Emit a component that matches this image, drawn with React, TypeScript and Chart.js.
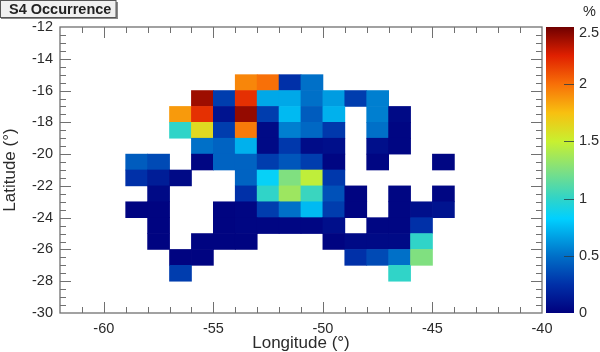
import React, { useEffect, useRef } from "react";
import { Chart, registerables } from "chart.js";

Chart.register(...registerables);

const FONT = "'Liberation Sans', Arial, sans-serif";
const _ = null;

// Left edge of every column (longitude, degrees)
const lons = [-59, -58, -57, -56, -55, -54, -53, -52, -51, -50, -49, -48, -47, -46, -45];
// Top edge of every row (latitude, degrees)
const lats = [-15, -16, -17, -18, -19, -20, -21, -22, -23, -24, -25, -26, -27];

const row15 = [_, _, _, _, _, 1.93, 2.0, 0.25, 0.5, _, _, _, _, _, _];
const row16 = [_, _, _, 2.4, 0.3, 2.2, 0.69, 0.69, 0.5, 0.65, 0.3, 0.55, _, _, _];
const row17 = [_, _, 1.87, 2.2, 0.1, 2.42, 0.3, 0.75, 0.42, 0.72, _, 0.55, 0.05, _, _];
const row18 = [_, _, 1.0, 1.62, 0.3, 1.97, 0.05, 0.55, 0.47, 0.28, _, 0.5, 0.03, _, _];
const row19 = [_, _, _, 0.5, 0.45, 0.72, 0.05, 0.28, 0.06, 0.08, _, 0.08, 0.03, _, _];
const row20 = [0.42, 0.35, _, 0.03, 0.45, 0.45, 0.3, 0.4, 0.3, 0.03, _, 0.03, _, _, 0.03];
const row21 = [0.25, 0.15, 0.05, _, _, 0.45, 0.85, 1.25, 1.47, 0.28, _, _, _, _, _];
const row22 = [_, 0.05, _, _, _, 0.25, 1.0, 1.35, 1.03, 0.38, 0.02, _, 0.03, _, 0.03];
const row23 = [0.02, 0.02, _, _, 0.02, 0.03, 0.3, 0.5, 0.75, 0.3, 0.02, _, 0.03, 0.08, 0.1];
const row24 = [_, 0.02, _, _, 0.02, 0.03, 0.03, 0.03, 0.03, 0.08, _, 0.03, 0.03, 0.25, _];
const row25 = [_, 0.02, _, 0.02, 0.02, 0.02, _, _, _, 0.02, 0.05, 0.05, 0.05, 1.0, _];
const row26 = [_, _, 0.02, 0.02, _, _, _, _, _, _, 0.25, 0.35, 0.5, 1.25, _];
const row27 = [_, _, 0.3, _, _, _, _, _, _, _, _, _, 1.0, _, _];
const rows = [row15, row16, row17, row18, row19, row20, row21, row22, row23, row24, row25, row26, row27];

const colorMax = 2.5;
const colorStops: [number, number[]][] = [
  [0, [0, 0, 126]],
  [0.1, [0, 48, 168]],
  [0.2, [0, 112, 200]],
  [0.33, [0, 208, 255]],
  [0.4, [48, 212, 200]],
  [0.5, [128, 224, 128]],
  [0.6, [200, 240, 48]],
  [0.7, [248, 192, 16]],
  [0.8, [248, 112, 8]],
  [0.9, [224, 32, 0]],
  [1, [112, 0, 0]],
];

function colorFor(v: number): string {
  const t = Math.min(1, Math.max(0, v / colorMax));
  for (let i = 1; i < colorStops.length; i++) {
    const [t1, c1] = colorStops[i];
    const [t0, c0] = colorStops[i - 1];
    if (t <= t1) {
      const f = (t - t0) / (t1 - t0);
      const c = c0.map((a, k) => Math.round(a + (c1[k] - a) * f));
      return `rgb(${c[0]},${c[1]},${c[2]})`;
    }
  }
  return "rgb(112,0,0)";
}

const cells: { x: number; y: [number, number]; v: number }[] = [];
rows.forEach((row, r) =>
  row.forEach((v, c) => {
    if (v !== null) cells.push({ x: lons[c] + 0.5, y: [lats[r] - 1, lats[r]], v: v as number });
  })
);

const AXIS = "#707070";
const TEXT = "#2b2b2b";

const decorate = {
  id: "decorate",
  beforeDatasetsDraw(chart: any) {
    const { ctx, chartArea: a, scales } = chart;
    const y2 = scales.y2;
    // colour bar
    const barL = a.right + 4;
    const barR = a.right + 32;
    const top = y2.getPixelForValue(colorMax);
    const bot = y2.getPixelForValue(0);
    const g = ctx.createLinearGradient(0, bot, 0, top);
    colorStops.forEach(([t, c]) => g.addColorStop(t, `rgb(${c[0]},${c[1]},${c[2]})`));
    ctx.save();
    ctx.fillStyle = g;
    ctx.fillRect(barL, top, barR - barL, bot - top);
    ctx.strokeStyle = "rgba(40,60,70,0.8)";
    ctx.lineWidth = 1;
    y2.ticks.forEach((t: any) => {
      if (t.value <= 0 || t.value >= colorMax) return;
      const p = Math.round(y2.getPixelForValue(t.value)) + 0.5;
      ctx.beginPath();
      ctx.moveTo(barR - 10, p);
      ctx.lineTo(barR, p);
      ctx.stroke();
    });
    ctx.restore();
  },
  afterDatasetsDraw(chart: any) {
    const { ctx, chartArea: a, scales } = chart;
    const { x, y, y2 } = scales;
    ctx.save();
    ctx.strokeStyle = AXIS;
    ctx.lineWidth = 1.3;
    ctx.strokeRect(a.left, a.top, a.right - a.left, a.bottom - a.top);
    ctx.lineWidth = 1;
    ctx.beginPath();
    for (let v = x.min + 1; v < x.max; v++) {
      const p = Math.round(x.getPixelForValue(v)) + 0.5;
      const len = v % 5 === 0 ? 11 : 6;
      ctx.moveTo(p, a.bottom);
      ctx.lineTo(p, a.bottom - len);
      ctx.moveTo(p, a.top);
      ctx.lineTo(p, a.top + len);
    }
    for (let v = y.min + 0.5; v < y.max; v += 0.5) {
      const p = Math.round(y.getPixelForValue(v)) + 0.5;
      const len = v % 2 === 0 ? 11 : 6;
      ctx.moveTo(a.left, p);
      ctx.lineTo(a.left + len, p);
      ctx.moveTo(a.right, p);
      ctx.lineTo(a.right - len, p);
    }
    ctx.stroke();

    // title box
    ctx.fillStyle = "#8a8a8a";
    ctx.fillRect(1, 2, 117, 17);
    ctx.fillStyle = "#f0f0f0";
    ctx.strokeStyle = "#555555";
    ctx.lineWidth = 1;
    ctx.fillRect(0.5, 0.5, 115.5, 17);
    ctx.strokeRect(0.5, 0.5, 115.5, 17);
    ctx.fillStyle = "#222222";
    ctx.font = `bold 14.5px ${FONT}`;
    ctx.textAlign = "left";
    ctx.textBaseline = "middle";
    ctx.fillText("S4 Occurrence", 9, 10);

    // colour bar top label and unit
    ctx.fillStyle = TEXT;
    ctx.font = `14.5px ${FONT}`;
    ctx.fillText("2.5", 579, y2.getPixelForValue(colorMax) + 5.5);
    ctx.fillText("%", 583, 12);
    ctx.restore();
  },
};

export default function App() {
  const ref = useRef<HTMLCanvasElement>(null);
  useEffect(() => {
    const chart = new Chart(ref.current as HTMLCanvasElement, {
      type: "bar",
      data: {
        datasets: [
          {
            data: cells as any,
            backgroundColor: cells.map((c) => colorFor(c.v)),
            barThickness: 22,
            grouped: false,
            borderWidth: 0,
          },
        ],
      },
      plugins: [decorate],
      options: {
        responsive: false,
        animation: false,
        maintainAspectRatio: false,
        layout: { autoPadding: false, padding: { top: 27, left: 0, right: 0, bottom: 0 } },
        plugins: { legend: { display: false }, title: { display: false }, tooltip: { enabled: false } },
        scales: {
          x: {
            type: "linear",
            min: -62,
            max: -40,
            offset: false,
            grid: { display: false, drawTicks: false },
            border: { display: false },
            ticks: { stepSize: 5, includeBounds: false, padding: 7, maxRotation: 0, color: TEXT, font: { family: FONT, size: 14.5 } },
            title: { display: true, text: "Longitude (°)", color: TEXT, font: { family: FONT, size: 17 }, padding: { top: 0, bottom: -2 } },
            afterFit: (s: any) => { s.height = 39; },
          },
          y: {
            type: "linear",
            position: "left",
            min: -30,
            max: -12,
            grid: { display: false, drawTicks: false },
            border: { display: false },
            ticks: { stepSize: 2, includeBounds: false, padding: 7, color: TEXT, font: { family: FONT, size: 14.5 } },
            title: { display: true, text: "Latitude (°)", color: TEXT, font: { family: FONT, size: 17 }, padding: { top: 0, bottom: 0 } },
            afterFit: (s: any) => { s.width = 60; s.paddingTop = 0; s.paddingBottom = 0; },
          },
          y2: {
            type: "linear",
            position: "right",
            min: 0,
            max: colorMax,
            grid: { display: false, drawTicks: false },
            border: { display: false },
            ticks: {
              stepSize: 0.5,
              padding: 37,
              color: TEXT,
              font: { family: FONT, size: 14.5 },
              callback: (v: any) => (v === colorMax ? "" : String(v)),
            },
            afterFit: (s: any) => { s.width = 58; s.paddingTop = 0; s.paddingBottom = 0; },
          },
        },
      } as any,
    });
    return () => chart.destroy();
  }, []);
  return (
    <div style={{ position: "fixed", left: 0, top: 0, width: 600, height: 352, background: "#fff" }}>
      <canvas ref={ref} width={600} height={352} style={{ display: "block" }} />
    </div>
  );
}
